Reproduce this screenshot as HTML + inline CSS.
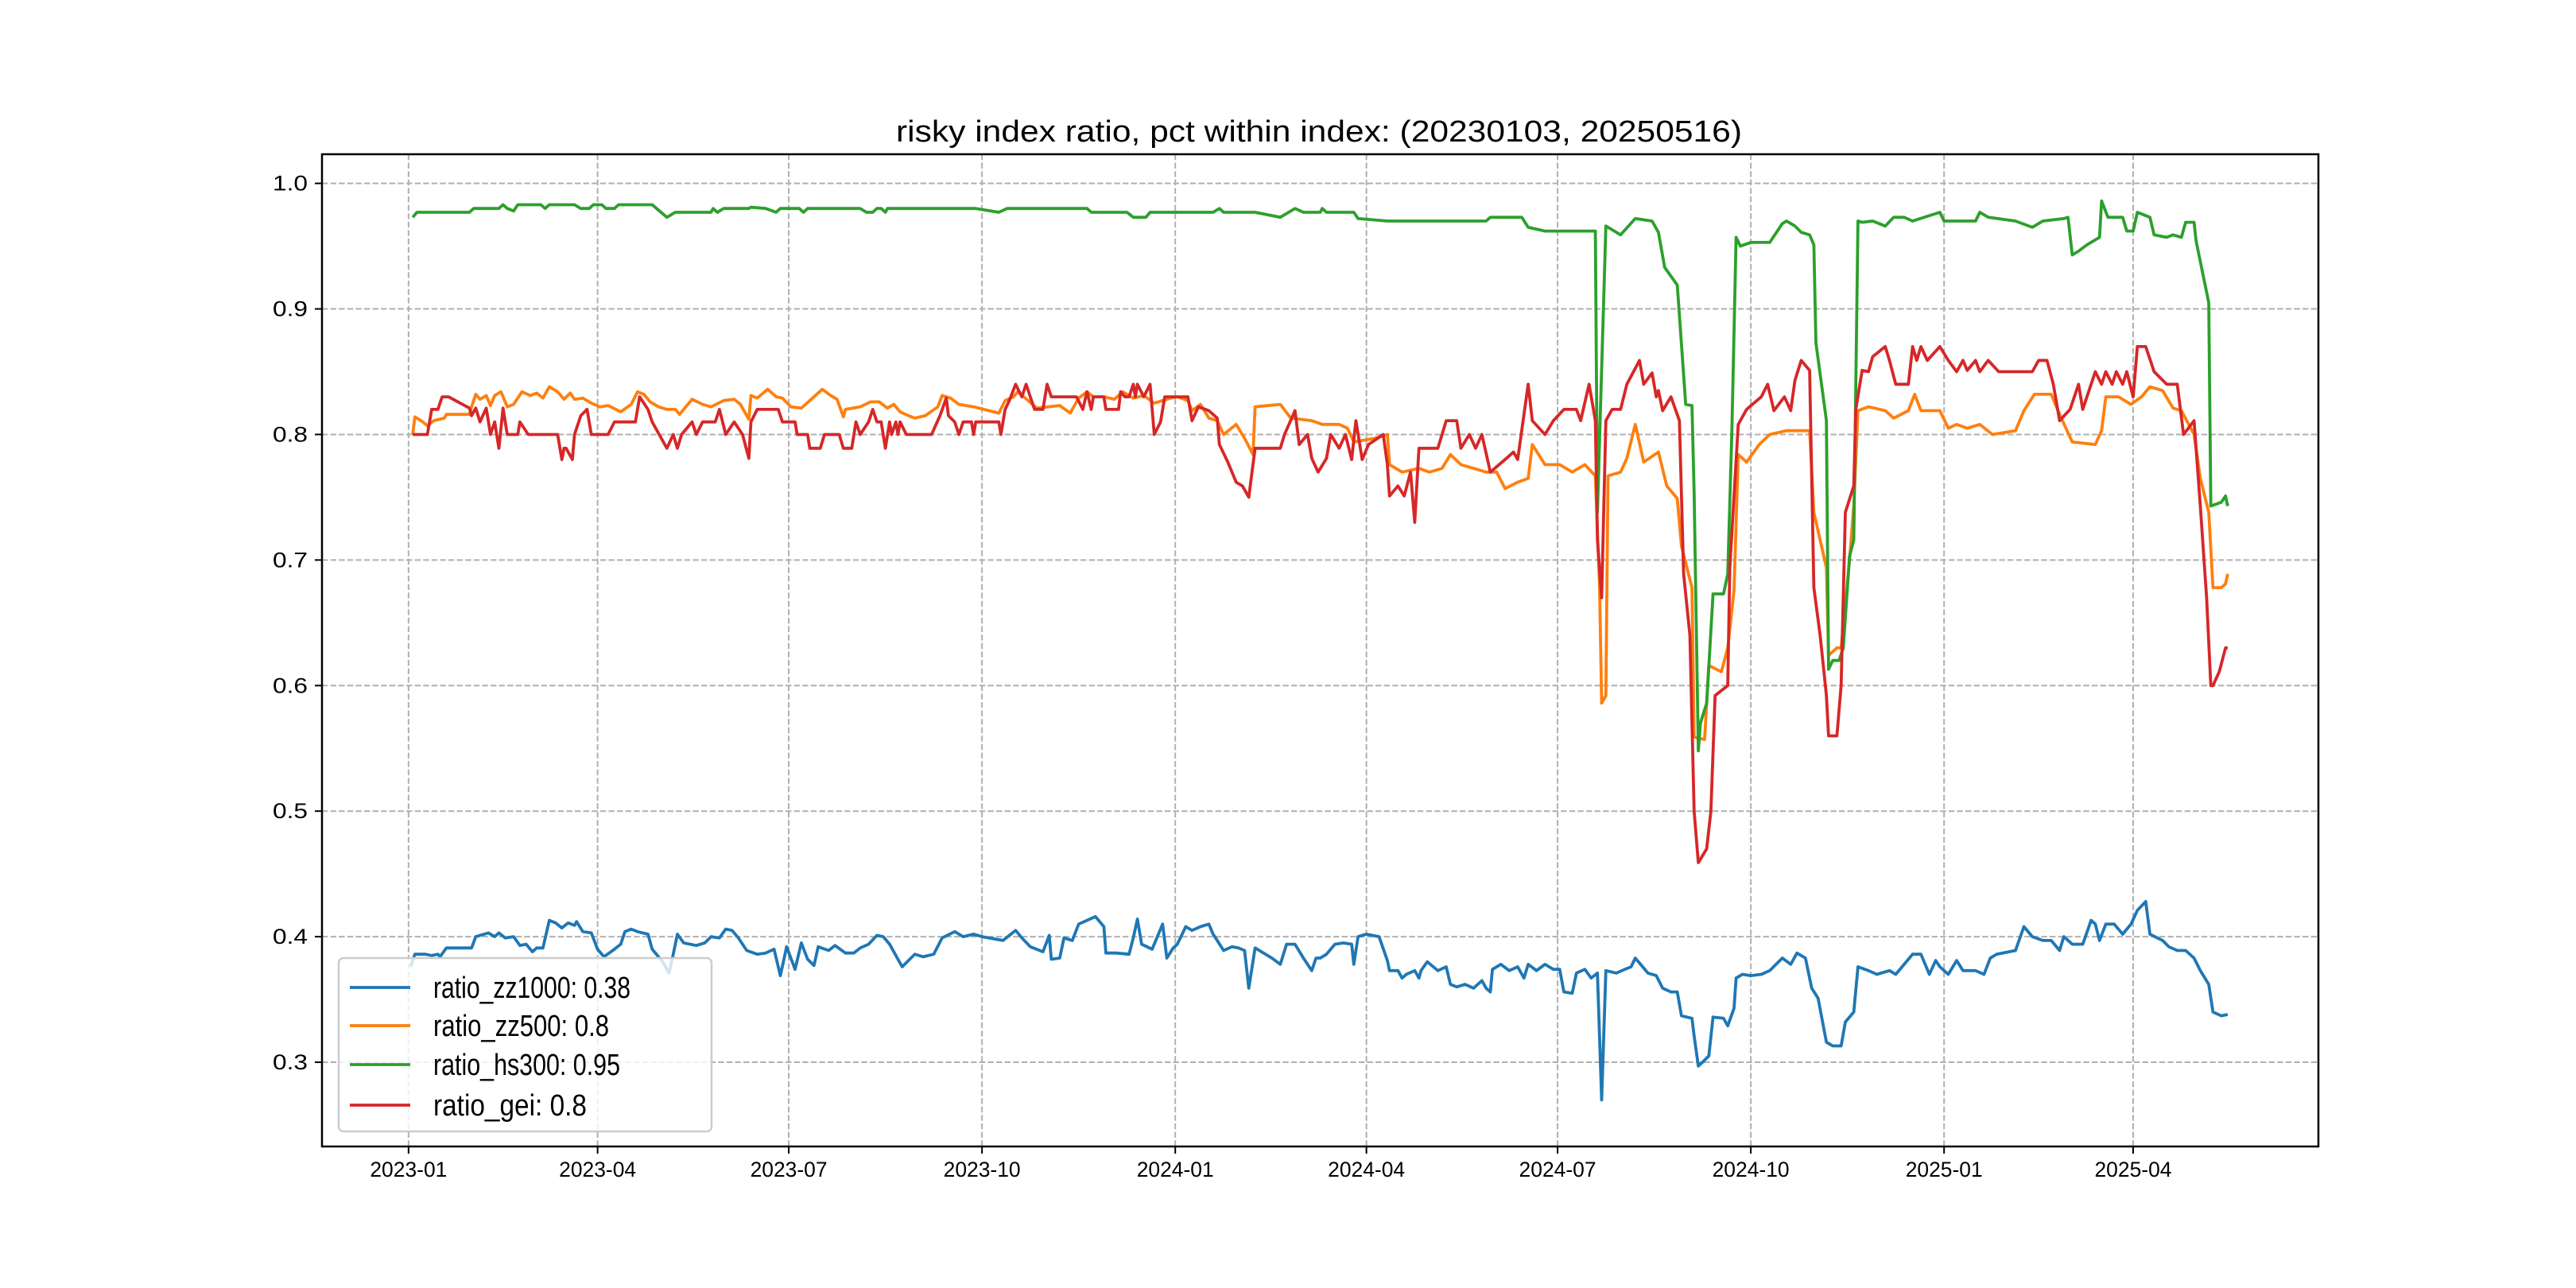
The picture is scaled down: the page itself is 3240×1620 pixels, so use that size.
<!DOCTYPE html>
<html><head><meta charset="utf-8"><style>
html,body{margin:0;padding:0;background:#fff;}
svg{display:block;font-family:"Liberation Sans","WenQuanYi Zen Hei",sans-serif;}
</style></head><body>
<svg id="chart" width="3240" height="1620" viewBox="0 0 3240 1620" xmlns="http://www.w3.org/2000/svg">
<rect width="3240" height="1620" fill="#fff"/>
<text x="1659" y="178" font-size="38" text-anchor="middle" textLength="1064" lengthAdjust="spacingAndGlyphs" fill="#000">risky index ratio, pct within index: (20230103, 20250516)</text>
<g id="grid"></g>
<g id="series"></g>
<rect x="405" y="194" width="2511" height="1248" fill="none" stroke="#000" stroke-width="2.5"/>
<g id="ticks"></g>
<g id="legend"></g>
</svg>
<script>
// days since 2023-01-01
const xTickDays = [0, 90, 181, 273, 365, 456, 547, 639, 731, 821];
const xTickLabels = ["2023-01","2023-04","2023-07","2023-10","2024-01","2024-04","2024-07","2024-10","2025-01","2025-04"];
const yTicks = [0.3,0.4,0.5,0.6,0.7,0.8,0.9,1.0];
const yTickLabels = ["0.3","0.4","0.5","0.6","0.7","0.8","0.9","1.0"];
const seriesNames = ["ratio_zz1000: 0.38","ratio_zz500: 0.8","ratio_hs300: 0.95","ratio_gei: 0.8"];
const seriesColors = ["#1f77b4","#ff7f0e","#2ca02c","#d62728"];

const zz1000Days = [1,3,8,11,14,15,18,30,32,38,41,43,46,50,53,56,59,61,64,67,70,73,76,79,80,83,87,90,93,98,101,103,106,109,114,116,121,124,126,128,131,137,141,144,148,151,154,157,161,166,170,174,177,180,184,187,190,193,195,200,203,208,212,215,219,223,226,229,235,241,245,250,254,260,264,269,273,283,289,292,296,302,305,306,310,312,316,319,327,331,332,337,343,345,347,349,354,359,361,364,
366,370,373,377,381,383,385,388,392,395,398,400,403,411,415,418,422,426,430,432,434,437,441,445,449,450,452,456,462,466,467,471,473,475,479,481,482,485,490,494,496,499,503,507,511,513,515,516,520,524,528,531,533,537,541,545,548,550,554,556,560,563,566,568,570,575,579,582,584,590,594,597,601,604,606,611,612,614,616,619,621,626,628,631,632,635,639,644,648,654,658,661,665,668,671,675,678,682,684,688,690,695,699,705,708,712,716,720,724,727,729,733,737,740,746,750,753,756,765,769,773,778,782,786,788,792,797,801,803,805,808,812,816,820,823,827,829,835,838,842,846,850,853,857,859,863,866];
const zz1000Vals = [.376,.386,.386,.385,.386,.384,.391,.391,.400,.403,.400,.403,.399,.400,.393,.394,.388,.391,.391,.413,.411,.407,.411,.409,.412,.404,.403,.390,.384,.390,.394,.404,.406,.404,.402,.390,.380,.371,.386,.402,.395,.393,.395,.400,.399,.406,.405,.399,.389,.386,.387,.390,.369,.392,.374,.395,.382,.377,.392,.389,.393,.387,.387,.391,.394,.401,.400,.394,.376,.386,.384,.386,.399,.404,.400,.402,.400,.397,.405,.399,.392,.388,.401,.382,.383,.399,.397,.410,.416,.408,.387,.387,.386,.399,.414,.394,.390,.410,.383,.391,
.394,.408,.405,.408,.410,.402,.397,.389,.392,.391,.389,.359,.391,.383,.378,.394,.394,.383,.373,.383,.383,.386,.394,.395,.394,.378,.400,.402,.400,.381,.373,.373,.367,.370,.373,.367,.373,.380,.373,.376,.362,.360,.362,.359,.365,.359,.356,.374,.378,.373,.376,.367,.378,.373,.378,.374,.374,.356,.355,.371,.374,.367,.371,.270,.373,.371,.374,.376,.383,.371,.369,.359,.356,.356,.337,.335,.321,.297,.300,.305,.336,.335,.329,.343,.367,.370,.369,.370,.373,.383,.378,.387,.383,.359,.351,.316,.313,.313,.332,.340,.376,.373,.370,.373,.370,.378,.386,.386,.370,.381,.376,.370,.381,.373,.373,.370,.383,.386,.389,.408,.400,.397,.397,.389,.400,.394,.394,.413,.410,.397,.410,.410,.402,.410,.421,.428,.402,.397,.392,.389,.389,.383,.373,.362,.340,.337,.338];

const zz500Days = [2,3,6,9,12,17,18,29,30,32,34,37,39,41,44,47,50,54,58,61,64,67,71,74,77,79,83,87,91,95,101,106,109,112,115,119,123,127,129,135,140,144,150,155,158,162,163,166,171,175,178,182,187,191,197,201,204,207,208,215,220,224,228,231,234,238,241,246,252,254,258,262,269,281,284,288,290,295,299,310,315,319,323,326,331,336,340,345,350,355,363,
366,371,373,377,381,385,388,394,398,402,403,415,420,430,435,443,447,450,460,466,467,473,481,486,492,496,501,507,513,518,522,528,533,535,541,548,554,560,565,567,568,570,571,577,580,584,588,595,599,604,606,611,612,617,619,625,628,631,633,637,643,648,656,661,667,669,675,676,680,682,686,688,690,695,703,707,714,717,720,729,733,737,742,748,754,765,769,774,782,786,792,803,806,808,814,820,825,829,835,840,844,850,853,857,859,863,865,866];
const zz500Vals = [.800,.814,.811,.807,.811,.813,.816,.816,.822,.832,.828,.831,.823,.831,.834,.822,.824,.834,.831,.833,.829,.838,.834,.828,.833,.828,.829,.825,.822,.823,.818,.824,.834,.832,.826,.822,.820,.820,.816,.828,.824,.822,.827,.828,.824,.812,.831,.829,.836,.830,.829,.822,.821,.827,.836,.831,.828,.814,.820,.822,.826,.826,.821,.824,.818,.815,.813,.815,.822,.831,.829,.824,.822,.817,.827,.830,.834,.827,.821,.823,.817,.829,.834,.830,.830,.828,.834,.829,.831,.825,.829,
.830,.827,.819,.824,.813,.811,.800,.808,.797,.784,.822,.824,.813,.811,.808,.808,.805,.794,.797,.800,.776,.770,.773,.770,.773,.784,.776,.773,.770,.770,.757,.762,.765,.792,.776,.776,.770,.776,.767,.678,.586,.592,.767,.770,.781,.808,.778,.786,.759,.749,.711,.678,.559,.557,.616,.611,.630,.676,.784,.778,.792,.800,.803,.803,.803,.738,.694,.624,.630,.630,.700,.743,.819,.822,.819,.813,.819,.832,.819,.819,.805,.808,.805,.808,.800,.803,.819,.832,.832,.816,.794,.792,.803,.830,.830,.824,.830,.838,.835,.821,.819,.800,.765,.738,.678,.678,.681,.689];

const hs300Days = [2,4,29,31,43,45,47,50,52,63,65,67,79,82,86,88,92,94,98,100,116,123,127,144,145,147,150,162,163,170,175,177,186,188,190,215,218,221,223,225,227,228,270,281,285,323,325,329,342,345,351,353,
366,383,386,388,403,415,422,426,434,435,437,450,452,466,513,515,530,533,541,565,566,570,577,584,592,595,598,604,605,608,611,612,614,615,618,621,626,628,630,632,634,639,648,654,656,660,663,667,669,670,675,676,678,681,683,686,688,690,692,697,703,707,712,716,729,731,746,748,752,765,773,778,788,790,792,795,799,805,806,809,816,818,821,823,829,831,837,840,844,846,850,851,857,858,863,865,866];
const hs300Vals = [.973,.977,.977,.980,.980,.983,.980,.978,.983,.983,.980,.983,.983,.980,.980,.983,.983,.980,.980,.983,.983,.973,.977,.977,.980,.977,.980,.980,.981,.980,.977,.980,.980,.977,.980,.980,.977,.977,.980,.980,.977,.980,.980,.977,.980,.980,.977,.977,.977,.973,.973,.977,
.977,.977,.980,.977,.977,.973,.980,.977,.977,.980,.977,.977,.972,.970,.970,.973,.973,.965,.962,.962,.738,.966,.959,.972,.970,.961,.933,.919,.895,.824,.823,.754,.548,.570,.586,.673,.673,.689,.803,.957,.950,.953,.953,.968,.970,.966,.961,.959,.951,.873,.811,.613,.620,.620,.630,.703,.716,.970,.969,.970,.966,.973,.973,.970,.977,.970,.970,.977,.973,.970,.965,.970,.972,.973,.943,.946,.951,.957,.986,.973,.973,.962,.962,.977,.973,.959,.957,.959,.957,.969,.969,.954,.905,.743,.746,.751,.743];

const geiDays = [2,9,11,14,16,19,29,30,32,34,37,39,41,43,45,47,52,53,57,71,73,74,75,78,79,82,85,87,95,98,108,110,114,116,123,126,128,130,135,137,140,146,148,151,155,159,162,163,166,176,178,184,185,190,191,196,198,205,207,211,213,215,219,221,223,225,227,229,230,232,233,234,237,240,249,253,256,257,260,262,264,268,269,270,281,282,284,286,289,292,294,298,302,304,306,318,321,323,325,326,331,332,338,339,341,343,345,346,347,350,353,355,358,360,363,
366,371,373,376,381,385,386,390,394,397,400,403,415,417,422,424,428,430,433,437,439,443,446,449,451,454,457,464,466,467,471,474,477,479,481,490,494,499,501,505,508,511,515,522,526,528,533,535,541,545,550,556,558,562,565,566,568,570,573,577,580,586,588,592,594,595,597,601,605,607,610,612,614,618,620,622,628,629,633,637,644,647,650,655,658,660,663,667,669,672,675,676,680,682,684,688,689,692,695,697,703,705,708,714,716,718,720,723,729,733,737,740,742,746,748,752,757,773,776,780,783,786,791,795,797,803,806,808,811,813,816,818,821,823,827,831,837,842,845,850,853,856,858,859,862,865,866];
const geiVals = [.800,.800,.820,.820,.830,.830,.821,.815,.821,.810,.821,.800,.810,.789,.821,.800,.800,.810,.800,.800,.780,.789,.789,.780,.800,.815,.820,.800,.800,.810,.810,.830,.820,.810,.789,.800,.789,.800,.810,.800,.810,.810,.820,.800,.810,.800,.781,.810,.820,.820,.810,.810,.800,.800,.789,.789,.800,.800,.789,.789,.810,.800,.810,.820,.810,.810,.789,.810,.800,.810,.800,.810,.800,.800,.800,.815,.829,.815,.810,.800,.810,.810,.800,.810,.810,.800,.820,.827,.840,.830,.840,.820,.820,.840,.830,.830,.820,.834,.820,.830,.830,.820,.820,.834,.830,.830,.840,.830,.840,.830,.840,.800,.810,.830,.830,
.830,.830,.811,.822,.819,.813,.792,.778,.762,.759,.750,.789,.789,.800,.819,.792,.800,.781,.770,.781,.800,.789,.800,.780,.811,.780,.792,.800,.776,.751,.759,.751,.770,.730,.789,.789,.811,.811,.789,.800,.789,.800,.770,.780,.786,.780,.840,.811,.800,.811,.820,.820,.811,.840,.811,.716,.670,.811,.820,.820,.840,.859,.840,.849,.830,.835,.819,.830,.811,.689,.640,.500,.459,.470,.500,.592,.600,.694,.808,.820,.830,.840,.819,.830,.819,.843,.859,.851,.678,.640,.592,.560,.560,.600,.738,.759,.820,.851,.850,.862,.870,.859,.840,.840,.870,.859,.870,.859,.870,.859,.850,.859,.851,.859,.850,.859,.850,.850,.859,.859,.840,.811,.820,.840,.820,.850,.840,.850,.840,.850,.840,.850,.830,.870,.870,.850,.840,.840,.800,.811,.743,.670,.600,.600,.611,.630,.630];

const L=405,R=2916,T=194,B=1442, XMIN=-41.2, XMAX=909.2, YMIN=0.2329, YMAX=1.0232;
function xs(d){return L+(d-XMIN)/(XMAX-XMIN)*(R-L);}
function ys(v){return B-(v-YMIN)/(YMAX-YMIN)*(B-T);}
const NS="http://www.w3.org/2000/svg";
function mk(tag,attrs,parent){const e=document.createElementNS(NS,tag);for(const k in attrs)e.setAttribute(k,attrs[k]);parent.appendChild(e);return e;}
const grid=document.getElementById('grid'), ticks=document.getElementById('ticks'), series=document.getElementById('series'), legend=document.getElementById('legend');

xTickDays.forEach((d,i)=>{
  const x=xs(d);
  const g=mk('line',{x1:x,x2:x,y1:T,y2:B,stroke:'#b0b0b0','stroke-width':2,'stroke-dasharray':'7.4,3.2'},grid);
  
  
  const t=mk('line',{x1:x,x2:x,y1:B,y2:B+9,stroke:'#000','stroke-width':2},ticks);
  
  
  const lb=mk('text',{x:x,y:B+38,'font-size':27,'text-anchor':'middle',fill:'#000',textLength:97,lengthAdjust:'spacingAndGlyphs'},ticks);
  lb.textContent=xTickLabels[i];
  
  
});
yTicks.forEach((v,i)=>{
  const y=ys(v);
  const g=mk('line',{x1:L,x2:R,y1:y,y2:y,stroke:'#b0b0b0','stroke-width':2,'stroke-dasharray':'7.4,3.2'},grid);
  
  
  const t=mk('line',{x1:L-9,x2:L,y1:y,y2:y,stroke:'#000','stroke-width':2},ticks);
  
  
  const lb=mk('text',{x:L-18,y:y+9,'font-size':27,'text-anchor':'end',fill:'#000',textLength:44,lengthAdjust:'spacingAndGlyphs'},ticks);
  lb.textContent=yTickLabels[i];
  
  
});
const allDays=[zz1000Days,zz500Days,hs300Days,geiDays], allVals=[zz1000Vals,zz500Vals,hs300Vals,geiVals];
const seriesIds=['line-zz1000','line-zz500','line-hs300','line-gei'];
allDays.forEach((days,si)=>{
  const vals=allVals[si];
  let d='';
  for(let i=0;i<Math.min(days.length,vals.length);i++){d+=(i?'L':'M')+xs(days[i]).toFixed(1)+','+ys(vals[i]).toFixed(1);}
  const p=mk('path',{d:d,fill:'none',stroke:seriesColors[si],'stroke-width':3.8,'stroke-linejoin':'round'},series);
  
  
});
const box=mk('rect',{x:426,y:1205,width:469,height:218,rx:6,fill:'#fff','fill-opacity':0.8,stroke:'#cccccc','stroke-width':2.5},legend);


const legY=[1242,1290,1339,1390];
seriesNames.forEach((n,i)=>{
  const l=mk('line',{x1:440,x2:516,y1:legY[i],y2:legY[i],stroke:seriesColors[i],'stroke-width':3.8},legend);
  
  
  const t=mk('text',{x:545,y:legY[i]+13,'font-size':38,fill:'#000',textLength:(n.length*13.8).toFixed(0),lengthAdjust:'spacingAndGlyphs'},legend);
  t.textContent=n;
  
  
});
</script>
</body></html>
